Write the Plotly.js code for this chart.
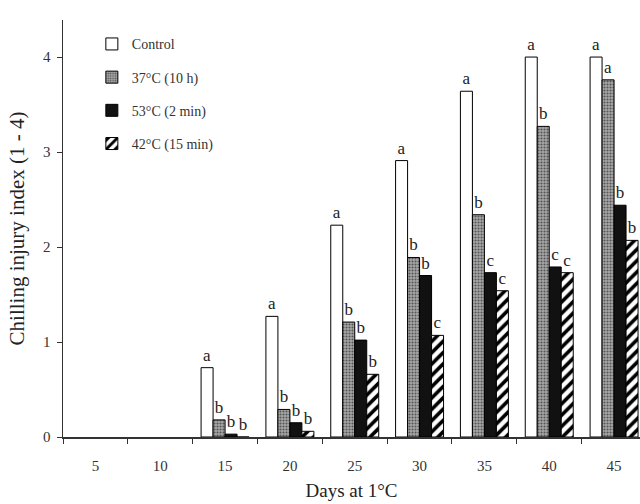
<!DOCTYPE html>
<html>
<head>
<meta charset="utf-8">
<script src="https://cdn.plot.ly/plotly-3.0.1.min.js"></script>
<style>html,body{margin:0;padding:0;background:#fff;} #chart{width:640px;height:504px;}</style>
</head>
<body>
<div id="chart"></div>
<script>
const days = ['5','10','15','20','25','30','35','40','45'];
const seriesNames = ['Control','37°C (10 h)','53°C (2 min)','42°C (15 min)'];
const control = [null, null, 0.73, 1.27, 2.23, 2.91, 3.64, 4.00, 4.00];
const heat37 = [null, null, 0.18, 0.29, 1.21, 1.89, 2.34, 3.27, 3.76];
const heat53 = [null, null, 0.03, 0.15, 1.02, 1.70, 1.73, 1.79, 2.44];
const heat42 = [null, null, 0.00, 0.06, 0.66, 1.07, 1.54, 1.73, 2.07];
const lettersControl = ['', '', 'a', 'a', 'a', 'a', 'a', 'a', 'a'];
const letters37 = ['', '', 'b', 'b', 'b', 'b', 'b', 'b', 'a'];
const letters53 = ['', '', 'b', 'b', 'b', 'b', 'c', 'c', 'b'];
const letters42 = ['', '', 'b', 'b', 'b', 'c', 'c', 'c', 'b'];

const font = 'Liberation Serif';
const lineStyle = {color: '#000', width: 1};
const letterFont = {family: font, size: 17, color: '#222'};
function bar(name, y, text, marker, grp) {
  return {
    type: 'bar', name: name, x: days, y: y, text: text,
    textposition: 'outside', cliponaxis: false, constraintext: 'none',
    textfont: letterFont, outsidetextfont: letterFont,
    marker: Object.assign({line: lineStyle}, marker),
    legendgroup: grp, hoverinfo: 'skip'
  };
}
const data = [
  bar(seriesNames[0], control, lettersControl, {color: '#ffffff'}, 'g1'),
  bar(seriesNames[1], heat37, letters37, {color: '#a0a0a0', pattern: {shape: '.', bgcolor: '#a8a8a8', fgcolor: '#555555', size: 3, solidity: 0.4}}, 'g2'),
  bar(seriesNames[2], heat53, letters53, {color: '#111111'}, 'g3'),
  bar(seriesNames[3], heat42, letters42, {color: '#ffffff', pattern: {shape: '/', bgcolor: '#ffffff', fgcolor: '#000000', size: 8, solidity: 0.45, fillmode: 'replace'}}, 'g4')
];
const layout = {
  width: 640, height: 504,
  margin: {l: 63, r: 0, t: 20, b: 67},
  paper_bgcolor: '#fff', plot_bgcolor: '#fff',
  font: {family: font, color: '#222', size: 14},
  barmode: 'group', bargap: 0.26, bargroupgap: 0,
  showlegend: true,
  legend: {x: 0.05, y: 0.98, xanchor: 'left', yanchor: 'top', bgcolor: 'rgba(0,0,0,0)',
    font: {family: font, size: 14, color: '#333'}, traceorder: 'grouped', tracegroupgap: 12, itemwidth: 30},
  xaxis: {
    type: 'category', range: [-0.5, 8.4], tickson: 'boundaries',
    ticks: 'outside', ticklen: 5, tickcolor: '#333', showline: true, linecolor: '#333', linewidth: 1.5,
    showgrid: false, zeroline: false, tickfont: {family: font, size: 15, color: '#333'},
    ticklabelstandoff: 14,
    title: {text: 'Days at 1°C', font: {family: font, size: 19, color: '#222'}, standoff: 11}
  },
  yaxis: {
    range: [0, 4.39], tickvals: [0, 1, 2, 3, 4], ticks: 'outside', ticklen: 5, tickcolor: '#333',
    showline: true, linecolor: '#333', linewidth: 1.5, showgrid: false, zeroline: false,
    tickfont: {family: font, size: 15, color: '#333'}, ticklabelstandoff: 3,
    title: {text: 'Chilling injury index (1 - 4)', font: {family: font, size: 21, color: '#222'}, standoff: 12}
  }
};
Plotly.newPlot('chart', data, layout, {displayModeBar: false, staticPlot: true});
</script>
</body>
</html>
